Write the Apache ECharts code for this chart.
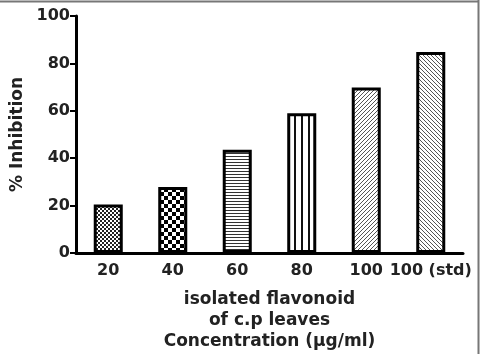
<!DOCTYPE html>
<html>
<head>
<meta charset="utf-8">
<script src="https://cdn.jsdelivr.net/npm/echarts@6/dist/echarts.min.js"></script>
<style>
html,body{margin:0;padding:0;background:#fff;}
#main{width:481px;height:354px;}
</style>
</head>
<body>
<div id="main"></div>
<script>
// data
var categories = ['20', '40', '60', '80', '100', '100 (std)'];
var inhibition = [20.5, 27.8, 43.6, 59, 69.8, 84.8];
var yTicks = [0, 20, 40, 60, 80, 100];

// hatch patterns drawn on small canvases
function makePattern(kind){
    var c = document.createElement('canvas');
    var ctx = c.getContext('2d');
    var s;
    if (kind == 'fineCheck') {
        s = 4; c.width = s; c.height = s;
        ctx.fillStyle = '#fff'; ctx.fillRect(0,0,s,s);
        ctx.fillStyle = '#222';
        ctx.fillRect(0,0,2,2); ctx.fillRect(2,2,2,2);
    } else if (kind == 'check') {
        s = 8; c.width = s; c.height = s;
        ctx.fillStyle = '#fff'; ctx.fillRect(0,0,s,s);
        ctx.fillStyle = '#000';
        ctx.fillRect(0,0,4,4); ctx.fillRect(4,4,4,4);
    } else if (kind == 'hline') {
        s = 3; c.width = 4; c.height = s;
        ctx.fillStyle = '#fff'; ctx.fillRect(0,0,4,s);
        ctx.fillStyle = '#333'; ctx.fillRect(0,0,4,1);
    } else if (kind == 'vline') {
        s = 7; c.width = s; c.height = 4;
        ctx.fillStyle = '#fff'; ctx.fillRect(0,0,s,4);
        ctx.fillStyle = '#111'; ctx.fillRect(0,0,2,4);
    } else {
        s = 4; c.width = s; c.height = s;
        ctx.fillStyle = '#fff'; ctx.fillRect(0,0,s,s);
        ctx.strokeStyle = '#555'; ctx.lineWidth = 1;
        ctx.beginPath();
        if (kind == 'fwd') {
            ctx.moveTo(-1, s+1); ctx.lineTo(s+1, -1);
            ctx.moveTo(-1, 1); ctx.lineTo(1, -1);
            ctx.moveTo(s-1, s+1); ctx.lineTo(s+1, s-1);
        } else {
            ctx.moveTo(-1, -1); ctx.lineTo(s+1, s+1);
            ctx.moveTo(-1, s-1); ctx.lineTo(1, s+1);
            ctx.moveTo(s-1, -1); ctx.lineTo(s+1, 1);
        }
        ctx.stroke();
    }
    return {image: c, repeat: 'repeat'};
}
var patternKinds = ['fineCheck', 'check', 'hline', 'vline', 'fwd', 'back'];

var barData = [];
for (var i = 0; i < inhibition.length; i++) {
    barData.push({
        value: inhibition[i],
        itemStyle: {color: makePattern(patternKinds[i])}
    });
}

var font = 'DejaVu Sans, sans-serif';
var myChart = echarts.init(document.getElementById('main'));
var option = {
    animation: false,
    backgroundColor: '#fff',
    grid: {left: 76, right: 18, top: 16, bottom: 101, containLabel: false, outerBoundsMode: 'none'},
    xAxis: {
        type: 'category',
        data: categories,
        axisLine: {lineStyle: {color: '#000', width: 3}},
        axisTick: {alignWithLabel: true, length: 6, lineStyle: {color: '#000', width: 2}},
        axisLabel: {interval: 0, color: '#222', fontFamily: font, fontWeight: 'bold', fontSize: 16, margin: 10},
        name: 'isolated flavonoid\nof c.p leaves\nConcentration (\u00b5g/ml)',
        nameLocation: 'middle',
        nameGap: 36,
        nameTextStyle: {color: '#222', fontFamily: font, fontWeight: 'bold', fontSize: 17, lineHeight: 21, verticalAlign: 'top'}
    },
    yAxis: {
        type: 'value',
        min: 0,
        max: 100,
        interval: 20,
        splitLine: {show: false},
        axisLine: {show: true, lineStyle: {color: '#000', width: 3}},
        axisTick: {show: true, length: 6, lineStyle: {color: '#000', width: 2}},
        axisLabel: {
            color: '#222', fontFamily: font, fontWeight: 'bold', fontSize: 16, margin: 6,
            formatter: function(v){ return yTicks.indexOf(v) >= 0 ? String(v) : ''; }
        },
        name: '% Inhibition',
        nameLocation: 'middle',
        nameGap: 49,
        nameRotate: 90,
        nameTextStyle: {color: '#222', fontFamily: font, fontWeight: 'bold', fontSize: 17}
    },
    graphic: [
        {type: 'line', shape: {x1: 0, y1: 1.5, x2: 479, y2: 1.5}, style: {stroke: '#777', lineWidth: 2}},
        {type: 'line', shape: {x1: 478.5, y1: 0, x2: 478.5, y2: 354}, style: {stroke: '#777', lineWidth: 2}}
    ],
    series: [{
        type: 'bar',
        data: barData,
        barWidth: '45%',
        itemStyle: {borderColor: '#000', borderWidth: 3}
    }]
};
myChart.setOption(option);
</script>
</body>
</html>
